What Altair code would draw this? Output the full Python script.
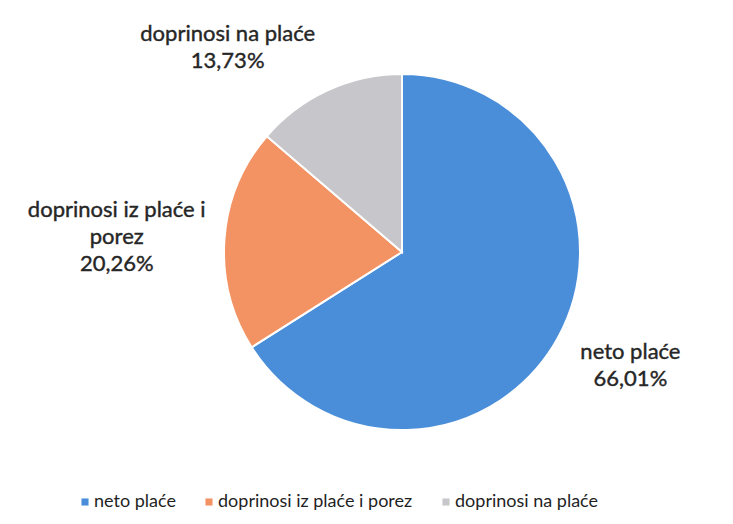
import textwrap
import altair as alt
import pandas as pd

categories = ["neto plaće", "doprinosi iz plaće i porez", "doprinosi na plaće"]
values = [66.01, 20.26, 13.73]
colors = ["#4a8ed9", "#f39262", "#c7c6cb"]

labels = [textwrap.fill(c, 20) + "\n" + f"{v:.2f}".replace(".", ",") + "%"
          for c, v in zip(categories, values)]

df = pd.DataFrame({
    "kategorija": categories,
    "vrijednost": values,
    "idx": list(range(len(categories))),
    "oznaka": labels,
})
total = sum(values)

CX, CY, R = 394, 244, 178

base = alt.Chart(df)

pie = base.mark_arc(outerRadius=R, stroke="white", strokeWidth=2).encode(
    theta=alt.Theta("vrijednost:Q", stack=True, scale=alt.Scale(domain=[0, total])),
    color=alt.Color(
        "kategorija:N",
        scale=alt.Scale(domain=categories, range=colors),
        legend=alt.Legend(
            title=None,
            orient="none",
            direction="horizontal",
            legendX=68,
            legendY=485,
            symbolType="square",
            symbolSize=50,
            symbolStrokeWidth=0,
            labelFont="Lato",
            labelFontSize=18,
            labelColor="#1f1f1f",
            labelOffset=0,
            columnPadding=24,
            labelLimit=400,
        ),
    ),
    order=alt.Order("idx:Q"),
    x=alt.value(CX),
    y=alt.value(CY),
    tooltip=["kategorija:N", "vrijednost:Q"],
)

stacked = base.transform_window(
    cum="sum(vrijednost)", sort=[alt.SortField("idx")], frame=[None, 0]
).transform_calculate(mid="datum.cum - datum.vrijednost / 2")

label_specs = [
    # (category, radius, dx, dy)
    (categories[0], 255, 5, -23),
    (categories[1], 285, -1, -22),
    (categories[2], 228, -79, -11),
]

text_layers = []
for cat, r, dx, dy in label_specs:
    t = stacked.transform_filter(alt.datum.kategorija == cat).mark_text(
        font="Lato",
        fontSize=22,
        color="#262626",
        stroke="#262626",
        strokeWidth=0.4,
        lineBreak="\n",
        lineHeight=27,
        align="center",
        baseline="middle",
        radius=r,
        dx=dx,
        dy=dy,
    ).encode(
        theta=alt.Theta("mid:Q", scale=alt.Scale(domain=[0, total])),
        text="oznaka:N",
        x=alt.value(CX),
        y=alt.value(CY),
    )
    text_layers.append(t)

chart = alt.layer(pie, *text_layers).properties(
    width=717,
    height=508,
    autosize=alt.AutoSizeParams(type="none"),
    padding=0,
).configure_view(stroke=None)

chart.save("out.html", embed_options={"renderer": "svg", "actions": False})
